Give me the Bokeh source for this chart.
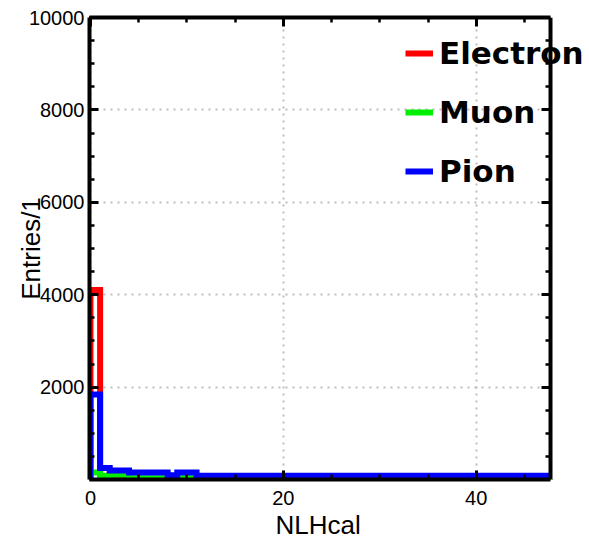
import numpy as np
from bokeh.plotting import figure
from bokeh.models import (LinearAxis, Legend, LegendItem, Range1d, Title,
                          SingleIntervalTicker, BoxAnnotation)
from bokeh.embed import file_html
from bokeh.resources import INLINE

# ---- data (histogram, bin width 1, edges 0..48) ----
bin_edges = list(range(0, 49))
electron = [4100, 0, 0, 0, 0, 0, 0, 0, 0, 0,
            0, 0, 0, 0, 0, 0, 0, 0, 0, 0,
            0, 0, 0, 0, 0, 0, 0, 0, 0, 0,
            0, 0, 0, 0, 0, 0, 0, 0, 0, 0,
            0, 0, 0, 0, 0, 0, 0, 0]
muon = [150, 80, 105, 105, 25, 25, 25, 25, 0, 25,
        25, 5, 5, 5, 5, 5, 5, 5, 5, 5,
        5, 5, 5, 5, 5, 5, 5, 5, 5, 5,
        5, 5, 5, 5, 5, 5, 5, 5, 5, 5,
        5, 5, 5, 5, 5, 5, 5, 5]
pion = [1840, 250, 195, 195, 150, 150, 150, 150, 93, 150,
        150, 80, 80, 80, 80, 80, 80, 80, 80, 80,
        80, 80, 80, 80, 80, 80, 80, 80, 80, 80,
        80, 80, 80, 80, 80, 80, 80, 80, 80, 80,
        80, 80, 80, 80, 80, 80, 80, 80]
series_names = ["Electron", "Muon", "Pion"]
series_colors = ["#ff0000", "#00ee00", "#0000ff"]
x_label = "NLHcal"
y_label = "Entries/1"
x_ticks_interval = 20
y_ticks_interval = 2000
x_start, x_border = -0.1, 47.7
y_start, y_end = 0, 10000

# frame runs to the right edge of the canvas so the legend text can
# overhang the right border of the plot box (as in the reference)
FRAME_W_BOX = 461
FRAME_W = 500
x_end = x_start + (x_border - x_start) * FRAME_W / FRAME_W_BOX

p = figure(width=589, height=543, frame_width=FRAME_W, frame_height=462,
           x_range=Range1d(x_start, x_end), y_range=Range1d(y_start, y_end),
           output_backend="svg", toolbar_location=None,
           min_border_left=89, min_border_right=0,
           min_border_top=17, min_border_bottom=64)
p.outline_line_color = None
p.background_fill_color = "white"
p.border_fill_color = "white"

xticker = SingleIntervalTicker(interval=x_ticks_interval, num_minor_ticks=4)
yticker = SingleIntervalTicker(interval=y_ticks_interval, num_minor_ticks=4)

def style_axis(ax):
    ax.axis_line_width = 4
    ax.axis_line_color = "black"
    ax.major_tick_in = 9
    ax.major_tick_out = 0
    ax.major_tick_line_width = 3
    ax.minor_tick_in = 5
    ax.minor_tick_out = 0
    ax.minor_tick_line_width = 2.5
    ax.major_label_text_font = "Liberation Sans"
    ax.major_label_text_font_size = "20px"
    ax.major_label_text_color = "black"
    ax.axis_label_text_font = "Liberation Sans"
    ax.axis_label_text_font_size = "26px"
    ax.axis_label_text_font_style = "normal"
    ax.axis_label_text_color = "black"

xa = p.xaxis[0]
ya = p.yaxis[0]
xa.ticker = xticker
ya.ticker = yticker
style_axis(xa)
style_axis(ya)
xa.bounds = (x_start, x_border)
ya.axis_label = y_label
xa.major_label_standoff = 11
ya.major_label_standoff = 5
ya.axis_label_standoff = -20
ya.major_label_overrides = {0: ""}

top = LinearAxis(ticker=xticker, bounds=(x_start, x_border))
right = LinearAxis(ticker=yticker, fixed_location=x_border)
for ax in (top, right):
    style_axis(ax)
    ax.major_label_standoff = 0
top.major_label_overrides = {0: "", 20: "", 40: ""}
right.major_label_overrides = {0: "", 2000: "", 4000: "", 6000: "",
                               8000: "", 10000: ""}
p.add_layout(top, "above")
p.add_layout(right, "right")

# x-axis title, centred under the plot box (not under the wider frame)
p.add_layout(Title(text=x_label, align="left", offset=186, standoff=4,
                   vertical_align="top", text_font="Liberation Sans",
                   text_font_size="26px", text_font_style="normal",
                   text_color="black"), "below")

for g, t in ((p.xgrid[0], xticker), (p.ygrid[0], yticker)):
    g.ticker = t
    g.grid_line_color = "#bdbdbd"
    g.grid_line_dash = "2 5"
    g.grid_line_width = 2

# step coordinates built from the bin edges and counts
renderers = []
for vals, col in zip((electron, muon, pion), series_colors):
    xs = [bin_edges[0]] + bin_edges
    ys = [0] + vals + [vals[-1]]
    r = p.step(x=xs, y=ys, mode="after", line_color=col, line_width=6,
               line_join="miter")
    renderers.append(r)

# blank out the part of the frame right of the plot box
p.add_layout(BoxAnnotation(left=x_border, fill_color="white", fill_alpha=1,
                           line_color=None, level="glyph"))

legend = Legend(items=[LegendItem(label=n, renderers=[r])
                       for n, r in zip(series_names, renderers)],
                location=(316, 290), padding=0, margin=0, spacing=23,
                glyph_width=28, glyph_height=36, label_height=36,
                label_standoff=6, label_text_font="DejaVu Sans",
                label_text_font_style="bold", label_text_font_size="31px",
                label_text_color="black",
                border_line_color=None, background_fill_alpha=0)
p.add_layout(legend)

open("out.html", "w").write(file_html(p, INLINE))
